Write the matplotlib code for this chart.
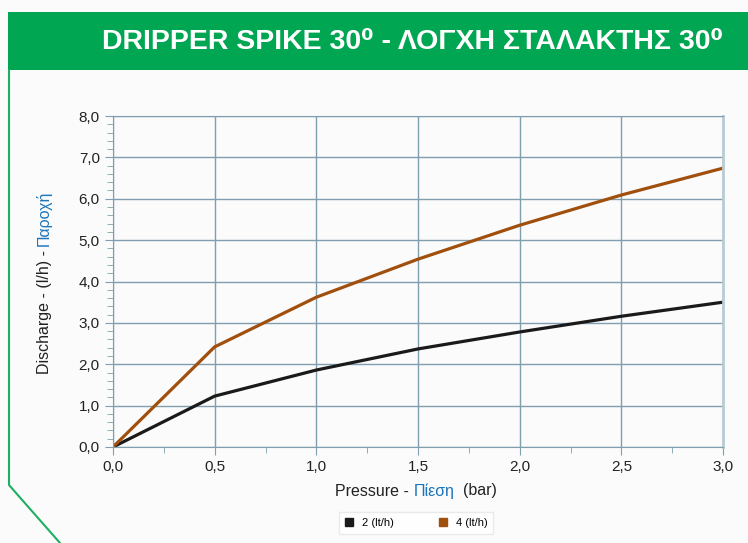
import matplotlib
matplotlib.use("Agg")
import matplotlib.pyplot as plt
from matplotlib.patches import Rectangle
from matplotlib.lines import Line2D
from matplotlib.ticker import MultipleLocator, FuncFormatter

# data
pressure = [0.0, 0.5, 1.0, 1.5, 2.0, 2.5, 3.0]
flow_2 = [0.0, 1.23, 1.86, 2.37, 2.78, 3.16, 3.50]
flow_4 = [0.0, 2.42, 3.62, 4.54, 5.36, 6.09, 6.74]
series_names = ["2 (lt/h)", "4 (lt/h)"]
series_colors = ["#1a1a1a", "#a04f0c"]

W, H = 748, 543
plt.rcParams['font.family'] = ['Liberation Sans', 'DejaVu Sans']

fig = plt.figure(figsize=(W / 100, H / 100), dpi=100)
fig.patch.set_facecolor("#fbfbfb")

# green banner + frame line
fig.patches.append(Rectangle((8 / W, 1 - 70 / H), 1, 58 / H, transform=fig.transFigure,
                             facecolor="#00a651", edgecolor="none", zorder=0))
fig.lines.append(Line2D([9 / W, 9 / W, 60 / W], [1 - 70 / H, 1 - 485 / H, 0],
                        transform=fig.transFigure, color="#1fae62", lw=1.5))
fig.text(723 / W, 1 - 42 / H, "DRIPPER SPIKE 30\u2070 - ΛΟΓΧΗ ΣΤΑΛΑΚΤΗΣ 30\u2070",
         fontsize=20.5, fontweight='bold', color='white', ha='right', va='center')

ax = fig.add_axes([113 / W, 1 - 447 / H, 610 / W, 331 / H])
ax.set_facecolor("#fbfbfb")
for name, vals, col in zip(series_names, [flow_2, flow_4], series_colors):
    ax.plot(pressure, vals, color=col, lw=2.3, label=name, solid_capstyle='round')

grid_col = "#7f9fae"
ax.set_xlim(0, 3)
ax.set_ylim(0, 8)
ax.xaxis.set_major_locator(MultipleLocator(0.5))
ax.xaxis.set_minor_locator(MultipleLocator(0.25))
ax.yaxis.set_major_locator(MultipleLocator(1))
ax.yaxis.set_minor_locator(MultipleLocator(0.2))
fmt = FuncFormatter(lambda v, p: f"{v:.1f}".replace(".", ","))
ax.xaxis.set_major_formatter(fmt)
ax.yaxis.set_major_formatter(fmt)
ax.grid(True, which='major', color=grid_col, lw=1)
ax.tick_params(which='both', colors=grid_col, labelcolor='#222222', labelsize=11)
ax.tick_params(which='major', length=6)
ax.tick_params(which='minor', length=4)
for s in ax.spines.values():
    s.set_color(grid_col)
ax.spines['right'].set_color("#b9cbd4")
ax.spines['right'].set_linewidth(2)

# y label in two colours
fig.canvas.draw()
r = fig.canvas.get_renderer()
t1 = fig.text(44 / W, 1 - 374 / H, "Discharge - (l/h) - ", rotation=90, fontsize=11.5,
              color='#222222', ha='center', va='bottom')
bb = t1.get_window_extent(r)
fig.text(44 / W, bb.y1 / H, "Παροχή", rotation=90, fontsize=11.5,
         color='#1b75bb', ha='center', va='bottom')

# x label in three colours
parts = [("Pressure - ", '#222222'), ("Πίεση", '#1b75bb'), ("  (bar)", '#222222')]
x = 335
for txt, col in parts:
    t = fig.text(x / W, 1 - 491 / H, txt, fontsize=11.5, color=col, ha='left', va='center')
    x = t.get_window_extent(r).x1

ax.legend(loc='center', bbox_to_anchor=(416 / W, 1 - 523 / H), bbox_transform=fig.transFigure,
          ncol=2, fontsize=8, frameon=True, fancybox=False, edgecolor='#e6e6e6',
          handlelength=0.8, handleheight=0.8, columnspacing=4, borderpad=0.5,
          borderaxespad=0)
leg = ax.get_legend()
for h, col in zip(leg.legend_handles, series_colors):
    h.set_marker('s')
    h.set_markersize(6)
    h.set_linestyle('none')
    h.set_markerfacecolor(col)
    h.set_markeredgecolor(col)

fig.savefig("out.png", dpi=100, facecolor=fig.get_facecolor())
